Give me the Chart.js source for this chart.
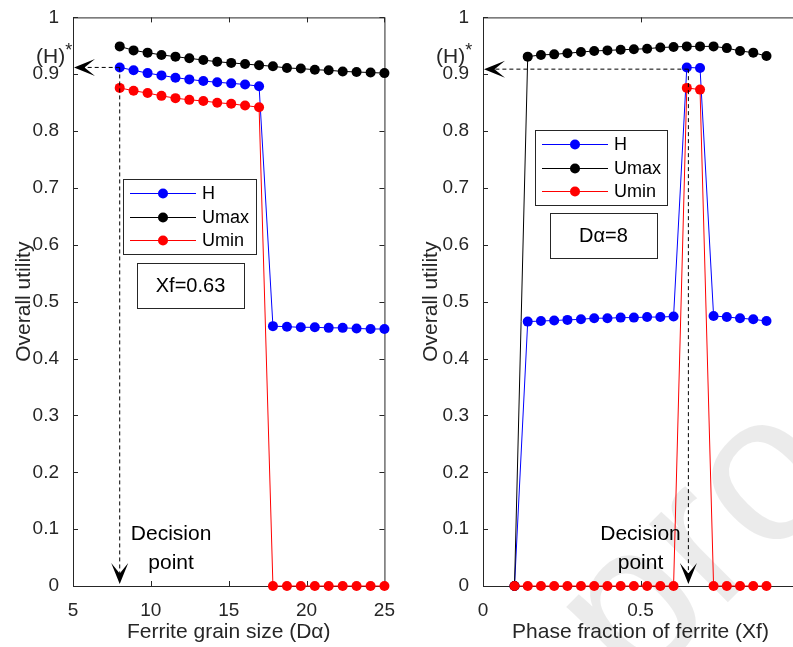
<!DOCTYPE html>
<html>
<head>
<meta charset="utf-8">
<script src="https://cdn.jsdelivr.net/npm/chart.js@4.4.1/dist/chart.umd.min.js"></script>
<style>
  html, body { margin: 0; padding: 0; background: #fff; overflow: hidden; width: 793px; height: 647px; }
  #c1 { position: absolute; left: 0; top: 0; }
  #c2 { position: absolute; left: 400px; top: 0; }
</style>
</head>
<body>
<canvas id="c1" width="400" height="647"></canvas>
<canvas id="c2" width="420" height="647"></canvas>
<script>
// left panel: ferrite grain size (Da), Xf = 0.63
const grainSize = [8, 8.89, 9.79, 10.68, 11.58, 12.47, 13.37, 14.26, 15.16, 16.05,
  16.95, 17.84, 18.74, 19.63, 20.53, 21.42, 22.32, 23.21, 24.11, 25];
const grainH = [0.912, 0.907, 0.902, 0.898, 0.894, 0.891, 0.888, 0.886, 0.884, 0.882,
  0.879, 0.457, 0.456, 0.455, 0.455, 0.454, 0.454, 0.453, 0.452, 0.452];
const grainUmax = [0.949, 0.942, 0.938, 0.934, 0.931, 0.928, 0.925, 0.922, 0.920, 0.918,
  0.916, 0.914, 0.911, 0.910, 0.908, 0.907, 0.905, 0.904, 0.903, 0.902];
const grainUmin = [0.876, 0.871, 0.867, 0.862, 0.858, 0.855, 0.853, 0.850, 0.848, 0.845,
  0.842, 0, 0, 0, 0, 0, 0, 0, 0, 0];

// right panel: phase fraction of ferrite (Xf), Da = 8
const phaseFrac = [0.1, 0.142, 0.184, 0.226, 0.268, 0.311, 0.353, 0.395, 0.437, 0.479,
  0.521, 0.563, 0.605, 0.647, 0.689, 0.732, 0.774, 0.816, 0.858, 0.9];
const phaseH = [0, 0.465, 0.466, 0.467, 0.468, 0.469, 0.471, 0.471, 0.472, 0.472,
  0.473, 0.473, 0.474, 0.912, 0.911, 0.475, 0.473, 0.471, 0.469, 0.466];
const phaseUmax = [0, 0.931, 0.934, 0.935, 0.937, 0.939, 0.941, 0.942, 0.943, 0.944,
  0.945, 0.947, 0.948, 0.949, 0.949, 0.949, 0.946, 0.941, 0.938, 0.932];
const phaseUmin = [0, 0, 0, 0, 0, 0, 0, 0, 0, 0,
  0, 0, 0, 0.876, 0.873, 0, 0, 0, 0, 0];

const seriesNames = ['H', 'Umax', 'Umin'];
const seriesColors = ['#0000ff', '#000000', '#ff0000'];
const yTicks = [0, 0.1, 0.2, 0.3, 0.4, 0.5, 0.6, 0.7, 0.8, 0.9, 1];

// decision points (H*)
const leftDecision = { x: 8, y: 0.912 };
const rightDecision = { x: 0.652, y: 0.909 };

const FONT = "'Liberation Sans', Arial, Helvetica, sans-serif";
const INK = '#262626';

function pts(xs, ys) {
  return xs.map((x, i) => ({ x: x, y: ys[i] }));
}

function makeDatasets(xs, lists) {
  return lists.map((ys, i) => ({
    label: seriesNames[i],
    data: pts(xs, ys),
    borderColor: seriesColors[i],
    backgroundColor: seriesColors[i],
    borderWidth: 1,
    pointRadius: 5,
    pointBorderWidth: 0,
    pointHoverRadius: 5,
    clip: false,
    order: 2 - i
  }));
}

function arrowHead(ctx, tx, ty, dx, dy) {
  const L = 21, W = 8.5;
  const nx = -dy, ny = dx;
  ctx.beginPath();
  ctx.moveTo(tx, ty);
  ctx.lineTo(tx - L * dx + W * nx, ty - L * dy + W * ny);
  ctx.lineTo(tx - 0.5 * L * dx, ty - 0.5 * L * dy);
  ctx.lineTo(tx - L * dx - W * nx, ty - L * dy - W * ny);
  ctx.closePath();
  ctx.fill();
}

function makeDeco(cfg) {
  return {
    id: 'deco',
    beforeDraw(chart) {
      if (!cfg.watermark) return;
      const ctx = chart.ctx;
      ctx.save();
      ctx.translate(cfg.watermark.x, cfg.watermark.y);
      ctx.rotate(cfg.watermark.angle);
      ctx.fillStyle = 'rgba(0,0,0,0.08)';
      ctx.font = cfg.watermark.size + 'px ' + FONT;
      ctx.textBaseline = 'alphabetic';
      ctx.fillText('proof', 0, 0);
      ctx.restore();
    },
    beforeDatasetsDraw(chart) {
      const { ctx, chartArea: a, scales } = chart;
      ctx.save();
      ctx.strokeStyle = INK;
      ctx.lineWidth = 1;
      ctx.strokeRect(a.left + 0.5, a.top + 0.5, a.right - a.left, a.bottom - a.top);
      ctx.beginPath();
      const tl = 5;
      scales.x.ticks.forEach(t => {
        const px = Math.round(scales.x.getPixelForValue(t.value)) + 0.5;
        ctx.moveTo(px, a.bottom); ctx.lineTo(px, a.bottom - tl);
        ctx.moveTo(px, a.top); ctx.lineTo(px, a.top + tl);
      });
      scales.y.ticks.forEach(t => {
        const py = Math.round(scales.y.getPixelForValue(t.value)) + 0.5;
        ctx.moveTo(a.left, py); ctx.lineTo(a.left + tl, py);
        ctx.moveTo(a.right, py); ctx.lineTo(a.right - tl, py);
      });
      ctx.stroke();
      ctx.restore();
    },
    afterDatasetsDraw(chart) {
      const { ctx, chartArea: a, scales } = chart;
      const xs = scales.x, ys = scales.y;
      const d = cfg.decision;
      const px = xs.getPixelForValue(d.x);
      const py = ys.getPixelForValue(d.y);
      ctx.save();
      // dashed guides
      ctx.strokeStyle = '#000';
      ctx.lineWidth = 1;
      ctx.setLineDash([4, 3]);
      ctx.beginPath();
      ctx.moveTo(px, py); ctx.lineTo(a.left + 10, py);
      ctx.moveTo(px, py); ctx.lineTo(px, a.bottom - 10);
      ctx.stroke();
      ctx.setLineDash([]);
      ctx.fillStyle = '#000';
      arrowHead(ctx, a.left + 1, py, -1, 0);
      arrowHead(ctx, px, a.bottom - 2, 0, 1);

      // (H)* label
      ctx.fillStyle = INK;
      ctx.font = '21px ' + FONT;
      ctx.textBaseline = 'middle';
      ctx.textAlign = 'left';
      const hy = ys.getPixelForValue(0.93);
      ctx.fillText('(H)', cfg.hstarX, hy);
      const w = ctx.measureText('(H)').width;
      ctx.font = '18px ' + FONT;
      ctx.fillText('*', cfg.hstarX + w, hy - 6);

      // decision point text
      ctx.font = '21px ' + FONT;
      ctx.fillStyle = '#000';
      ctx.textAlign = 'center';
      const tx = xs.getPixelForValue(cfg.textX);
      ctx.fillText('Decision', tx, a.bottom - 52);
      ctx.fillText('point', tx, a.bottom - 23);

      // legend
      const L = cfg.legend;
      ctx.fillStyle = '#fff';
      ctx.fillRect(L.x, L.y, L.w, L.h);
      ctx.strokeStyle = INK;
      ctx.lineWidth = 1;
      ctx.strokeRect(L.x + 0.5, L.y + 0.5, L.w, L.h);
      const rows = [14.5, 38.5, 61.5];
      chart.data.datasets.forEach((ds, i) => {
        const ry = L.y + rows[i];
        ctx.strokeStyle = ds.borderColor;
        ctx.beginPath();
        ctx.moveTo(L.x + 7, ry); ctx.lineTo(L.x + 73, ry);
        ctx.stroke();
        ctx.fillStyle = ds.backgroundColor;
        ctx.beginPath();
        ctx.arc(L.x + 40, ry, 5, 0, Math.PI * 2);
        ctx.fill();
        ctx.fillStyle = '#000';
        ctx.font = '18px ' + FONT;
        ctx.textAlign = 'left';
        ctx.fillText(ds.label, L.x + 79, ry + 1);
      });

      // info box
      const B = cfg.box;
      ctx.strokeStyle = INK;
      ctx.strokeRect(B.x + 0.5, B.y + 0.5, B.w, B.h);
      ctx.fillStyle = '#000';
      ctx.font = '20px ' + FONT;
      ctx.textAlign = 'center';
      ctx.fillText(B.text, B.x + B.w / 2, B.y + B.h / 2 + 1);
      ctx.restore();
    }
  };
}

function tickText(v) {
  return String(Number(v.toFixed(2)));
}

function makeOptions(xmin, xmax, xstep, yWidth, padRight, titlePad, xTitle) {
  return {
    responsive: false,
    animation: false,
    events: [],
    layout: { padding: { top: 15, right: padRight, left: 0, bottom: 0 } },
    plugins: { legend: { display: false }, tooltip: { enabled: false } },
    scales: {
      x: {
        type: 'linear', min: xmin, max: xmax,
        grid: { display: false }, border: { display: false },
        ticks: { stepSize: xstep, color: INK, padding: 5, maxRotation: 0, autoSkip: false,
          callback: tickText, font: { family: FONT, size: 19 } },
        title: { display: true, text: xTitle, color: INK, padding: { top: 0, bottom: 2 },
          font: { family: FONT, size: 21 } },
        afterFit(s) { s.height = 61; }
      },
      y: {
        type: 'linear', min: 0, max: 1,
        afterBuildTicks(s) { s.ticks = yTicks.map(v => ({ value: v })); },
        grid: { display: false }, border: { display: false },
        ticks: { color: INK, padding: 6, callback: tickText, font: { family: FONT, size: 19 } },
        title: { display: true, text: 'Overall utility', color: INK,
          padding: { top: titlePad, bottom: 0 },
          font: { family: FONT, size: 21 } },
        afterFit(s) { s.width = yWidth; }
      }
    }
  };
}

new Chart(document.getElementById('c1'), {
  type: 'line',
  data: { datasets: makeDatasets(grainSize, [grainH, grainUmax, grainUmin]) },
  options: makeOptions(5, 25, 5, 73, 14, 12, 'Ferrite grain size (Dα)'),
  plugins: [makeDeco({
    decision: leftDecision, hstarX: 36, textX: 11.3,
    legend: { x: 123, y: 179, w: 133, h: 75 },
    box: { x: 137, y: 263, w: 107, h: 45, text: 'Xf=0.63' }
  })]
});

new Chart(document.getElementById('c2'), {
  type: 'line',
  data: { datasets: makeDatasets(phaseFrac, [phaseH, phaseUmax, phaseUmin]) },
  options: makeOptions(0, 1, 0.5, 83, 22, 19, 'Phase fraction of ferrite (Xf)'),
  plugins: [makeDeco({
    decision: rightDecision, hstarX: 36, textX: 0.5,
    legend: { x: 135, y: 130, w: 132, h: 75 },
    box: { x: 150, y: 213, w: 107, h: 45, text: 'Dα=8' },
    watermark: { x: 235, y: 695, angle: -45 * Math.PI / 180, size: 210 }
  })]
});
</script>
</body>
</html>
